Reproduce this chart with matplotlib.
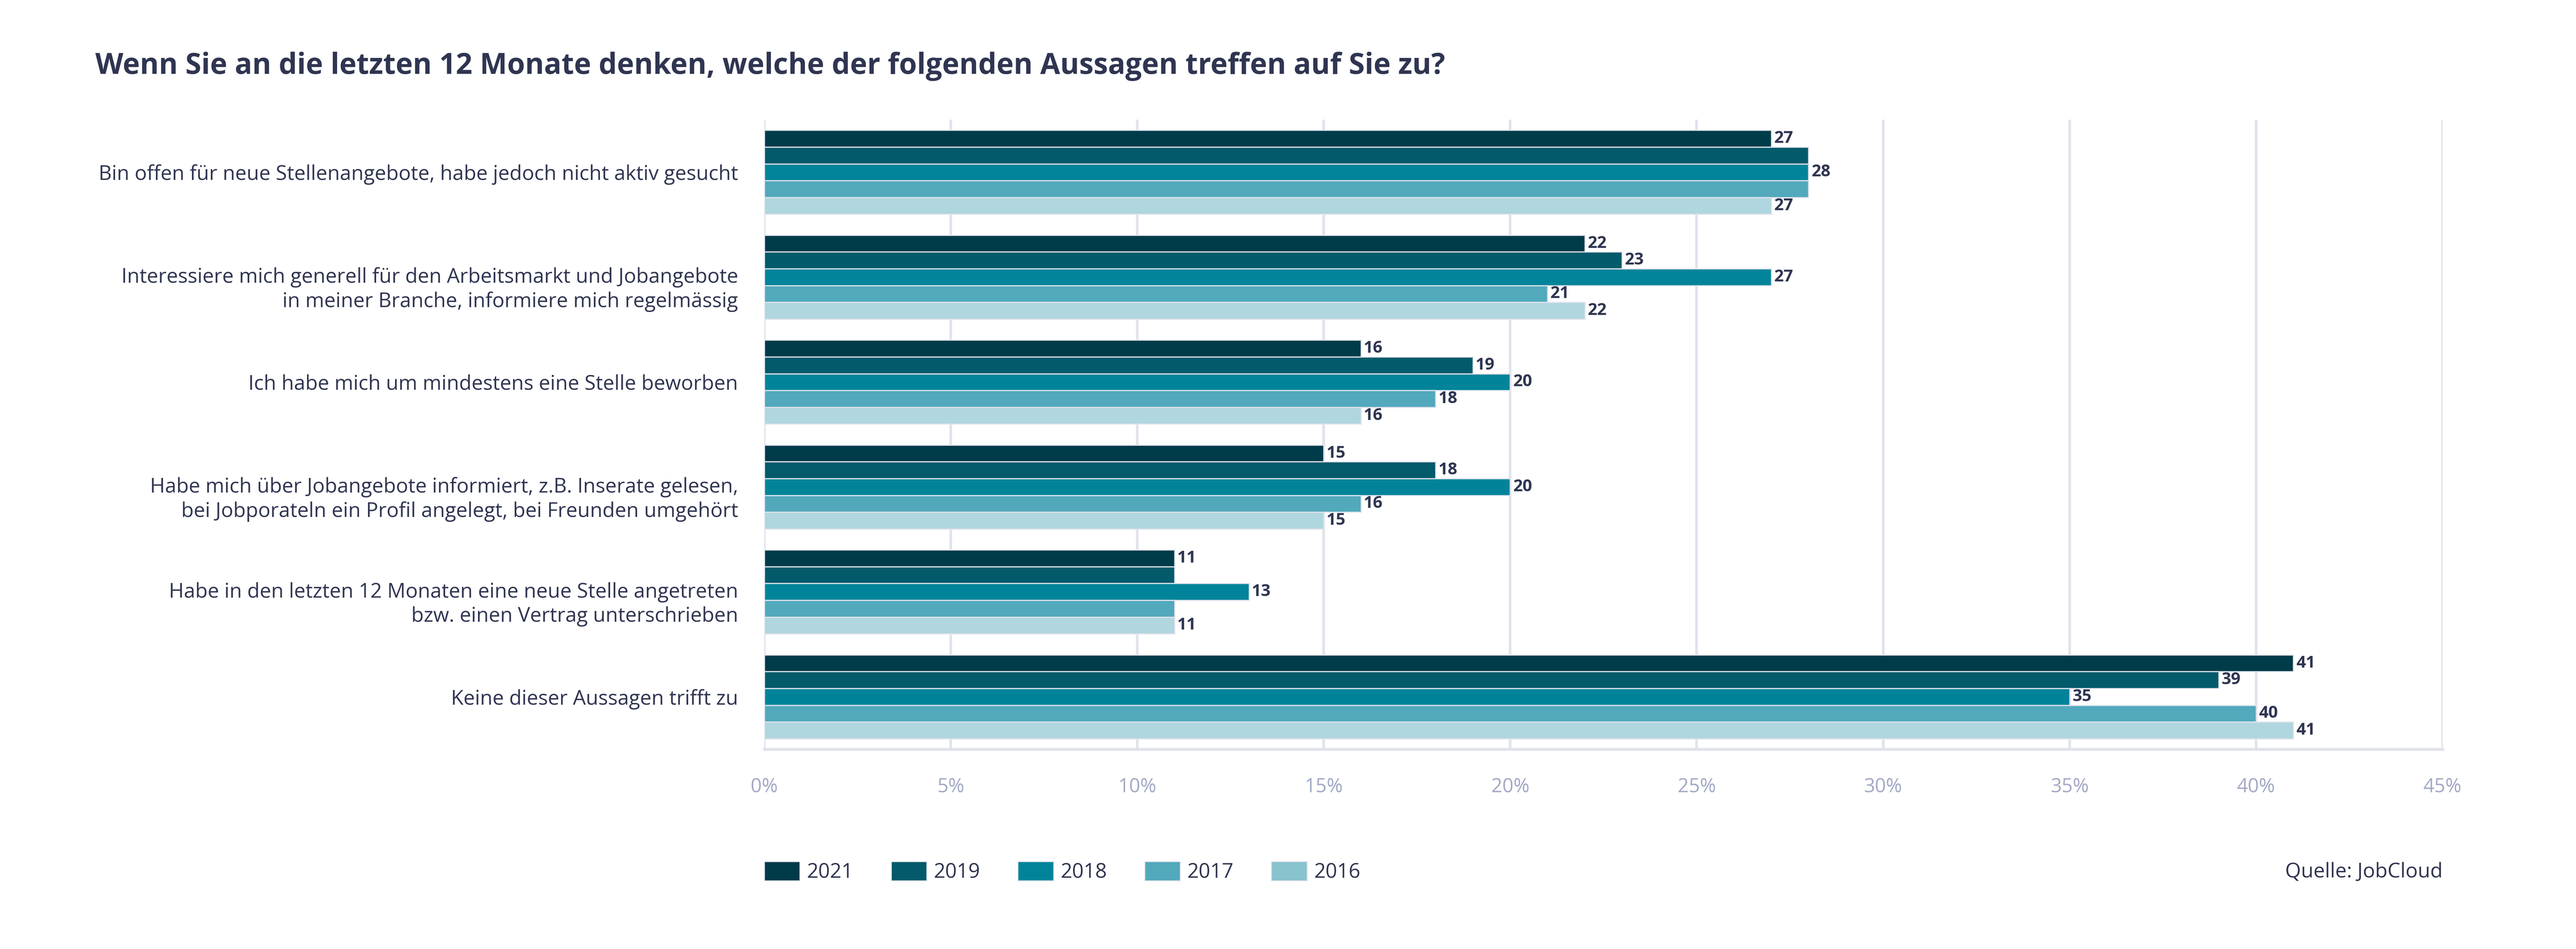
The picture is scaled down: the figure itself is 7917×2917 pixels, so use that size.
import matplotlib
matplotlib.use("Agg")
import matplotlib.pyplot as plt
from matplotlib.patches import Patch
from matplotlib.transforms import ScaledTranslation
import numpy as np

# data
categories = [
    "Bin offen für neue Stellenangebote, habe jedoch nicht aktiv gesucht",
    "Interessiere mich generell für den Arbeitsmarkt und Jobangebote\nin meiner Branche, informiere mich regelmässig",
    "Ich habe mich um mindestens eine Stelle beworben",
    "Habe mich über Jobangebote informiert, z.B. Inserate gelesen,\nbei Jobporateln ein Profil angelegt, bei Freunden umgehört",
    "Habe in den letzten 12 Monaten eine neue Stelle angetreten\nbzw. einen Vertrag unterschrieben",
    "Keine dieser Aussagen trifft zu",
]
years = ["2021", "2019", "2018", "2017", "2016"]
v2021 = [27, 22, 16, 15, 11, 41]
v2019 = [28, 23, 19, 18, 11, 39]
v2018 = [28, 27, 20, 20, 13, 35]
v2017 = [28, 21, 18, 16, 11, 40]
v2016 = [27, 22, 16, 15, 11, 41]
series = [v2021, v2019, v2018, v2017, v2016]
# labels hidden in the original where they would overlap
shown_2019 = [False, True, True, True, False, True]
shown_2017 = [False, True, True, True, False, True]
shown = [[True] * 6, shown_2019, [True] * 6, shown_2017, [True] * 6]

bar_colors = ["#003b49", "#025a6a", "#01849a", "#52a9bc", "#b0d6df"]
legend_colors = ["#003b49", "#025a6a", "#01849a", "#52a9bc", "#88c3ce"]
text_col = "#2f3551"
grid_col = "#e1e3ec"
tick_col = "#a2a9c4"

plt.rcParams["font.family"] = ["Open Sans", "DejaVu Sans"]

fig = plt.figure(figsize=(79.17, 29.17), dpi=100)
ax = fig.add_axes([0.2967, 0.2105, 0.6515, 0.6633])

y = np.arange(len(categories))
h = 0.8 / len(years)
for i, (vals, col) in enumerate(zip(series, bar_colors)):
    pos = y - 0.4 + h * (i + 0.5)
    bars = ax.barh(pos, vals, height=h, color=col, edgecolor=grid_col,
                   linewidth=2.5, zorder=3)
    labels = [str(v) if s else "" for v, s in zip(vals, shown[i])]
    ax.bar_label(bars, labels=labels, padding=6, fontsize=37,
                 fontweight="bold", color=text_col)

ax.set_xlim(0, 45)
ax.set_ylim(len(categories) - 0.5, -0.5)
ax.set_xticks(np.arange(0, 46, 5))
ax.set_xticklabels([f"{t}%" for t in range(0, 46, 5)])
ax.set_yticks(y)
ax.set_yticklabels(categories, linespacing=1.25)

ax.grid(axis="x", color=grid_col, linewidth=5.8, zorder=0)
for side in ["top", "right", "left"]:
    ax.spines[side].set_visible(False)
ax.spines["bottom"].set_color(grid_col)
ax.spines["bottom"].set_linewidth(6.5)
ax.tick_params(axis="x", length=0, pad=62, labelsize=43, labelcolor=tick_col)
ax.tick_params(axis="y", length=0, pad=58, labelsize=45, labelcolor=text_col)

# two-line labels sit a little lower in the original
shift = ScaledTranslation(0, -0.25, fig.dpi_scale_trans)
for lab in ax.get_yticklabels():
    if "\n" in lab.get_text():
        lab.set_transform(lab.get_transform() + shift)

fig.text(0.037, 0.93, "Wenn Sie an die letzten 12 Monate denken, welche der folgenden Aussagen treffen auf Sie zu?",
         fontsize=64, fontweight="bold", color=text_col, va="center", ha="left")

handles = [Patch(facecolor=c, edgecolor=grid_col, linewidth=2) for c in legend_colors]
fig.legend(handles, years, loc="center left", bbox_to_anchor=(0.2967, 0.081),
           ncol=5, frameon=False, fontsize=45, handlelength=1.75,
           handleheight=1.07, handletextpad=0.35, columnspacing=1.85,
           borderpad=0, borderaxespad=0, labelcolor=text_col)
fig.text(0.9482, 0.081, "Quelle: JobCloud", fontsize=45, color=text_col,
         ha="right", va="center")

fig.savefig("out.png", dpi=100, facecolor="white")
